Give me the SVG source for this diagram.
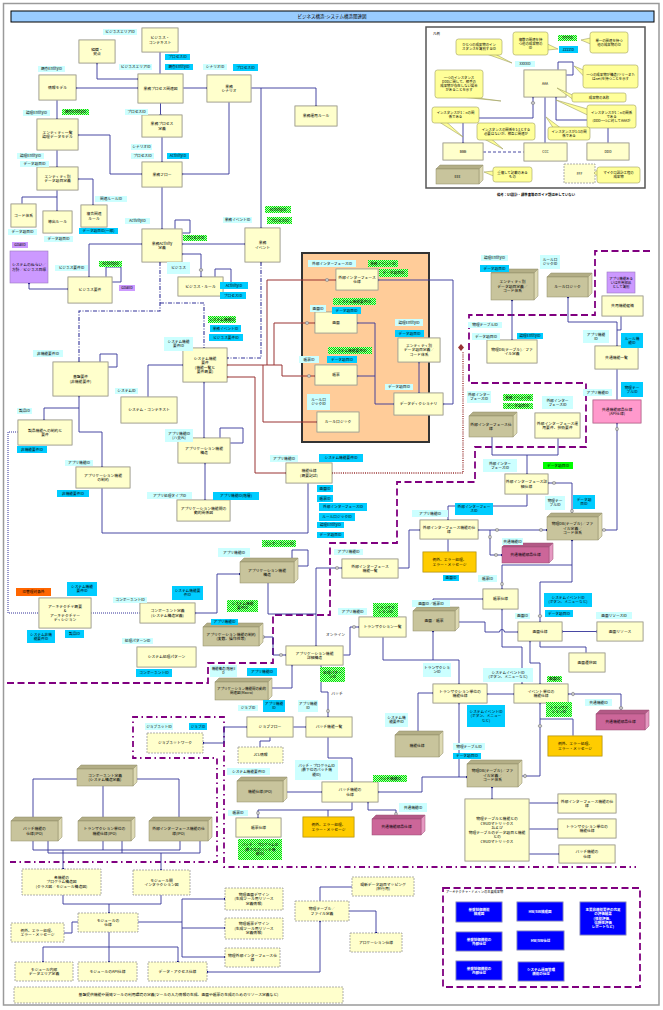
<svg xmlns="http://www.w3.org/2000/svg" width="663" height="1010" viewBox="0 0 663 1010">
<defs>
<style>
text{font-family:"Noto Sans CJK JP","Noto Sans CJK SC",sans-serif;font-size:3.8px;fill:#000;text-anchor:middle}
.lab text{font-size:3.7px}
.co text,.lg text{font-size:3.4px}
.n{fill:#ffffcc;stroke:#a09f8a;stroke-width:.8;filter:drop-shadow(.8px .8px 0 #b8b8b8)}
.nd{fill:#ffffcc;stroke:#999;stroke-width:.8;stroke-dasharray:2 1}
.org{fill:#ffcc00;stroke:#c9a000;stroke-width:.8;filter:drop-shadow(.8px .8px 0 #b8b8b8)}
.pk{fill:#ff99cc;stroke:#c06090;stroke-width:.8;filter:drop-shadow(.8px .8px 0 #b8b8b8)}
.pu{fill:#cc99ff;stroke:#9a7ac0;stroke-width:.6}
.bl{fill:#0000ff;stroke:#8888cc;stroke-width:.8;filter:drop-shadow(.8px .8px 0 #b8b8b8)}
.bt{fill:#fff;font-weight:bold;font-size:3.5px}
.f3{fill:#c8c49c;stroke:#8e8a66;stroke-width:.5}
.t3{fill:#b3ae86;stroke:#8e8a66;stroke-width:.5}
.s3{fill:#dedab4;stroke:#8e8a66;stroke-width:.5}
.fp{fill:#cc6699;stroke:#994d73;stroke-width:.5}
.tp{fill:#b35986;stroke:#994d73;stroke-width:.5}
.sp{fill:#e699c2;stroke:#994d73;stroke-width:.5}
.lc{fill:#ccffff}.sc{fill:#00ccff}.gc{fill:url(#chk)}.gs{fill:#00ff00}.lp{fill:#cc99ff}.lo{fill:#ff6600}
.c{fill:none;stroke:#333399;stroke-width:.9}
.r{fill:none;stroke:#993333;stroke-width:1}
.rd{fill:none;stroke:#993333;stroke-width:1.4;stroke-dasharray:1 1.2}
.dd{fill:none;stroke:#333399;stroke-width:1.1;stroke-dasharray:4 1.5 1 1.5}
.dt{fill:none;stroke:#333399;stroke-width:1;stroke-dasharray:1 1}
.pd{fill:none;stroke:#800080;stroke-width:1.8;stroke-dasharray:7 3.5}
.pdd{fill:none;stroke:#800080;stroke-width:1.8;stroke-dasharray:6 3.5 1.5 3.5}
.o{fill:#d0d0d0;stroke:#666;stroke-width:.5}
.cb{fill:#ffff99;stroke:#a0a060;stroke-width:.6}
.ms{marker-start:url(#d)}.me{marker-end:url(#d)}
.rs{marker-start:url(#rd)}.re{marker-end:url(#rd)}
</style>
<marker id="d" viewBox="0 0 4 4" refX="2" refY="2" markerWidth="3" markerHeight="3" markerUnits="userSpaceOnUse"><circle cx="2" cy="2" r="1.6" fill="#000080"/></marker>
<marker id="rd" viewBox="0 0 4 4" refX="2" refY="2" markerWidth="3" markerHeight="3" markerUnits="userSpaceOnUse"><circle cx="2" cy="2" r="1.6" fill="#800000"/></marker>
<pattern id="chk" width="2" height="2" patternUnits="userSpaceOnUse"><rect width="2" height="2" fill="#b0ffb0"/><rect width="1" height="1" fill="#00e000"/><rect x="1" y="1" width="1" height="1" fill="#00e000"/></pattern>
</defs>
<rect x="0" y="0" width="663" height="1010" fill="#fff"/>
<rect x="3.5" y="3.5" width="655.5" height="1001.5" fill="#fff" stroke="#9a9a9a" stroke-width="1.5"/>
<g id="title"><rect x="11" y="11" width="643" height="11" fill="#99ccff" stroke="#000" stroke-width="1"/><text x="332" y="18.3" style="font-size:4.5px">ビジネス構造-システム構造関連図</text></g>

<!-- legend -->
<g id="legend" class="lg">
<rect x="426" y="27" width="219" height="161" fill="#fff" stroke="#555" stroke-width="1.5"/>
<text x="433" y="35" style="text-anchor:start">凡例</text>
<path class="c" d="M558,70V62H573V75H566"/>
<path class="c ms me" d="M533,97V118H463V143"/>
<path class="c" d="M545,97V143"/>
<path class="c ms" d="M556,97V120H608V143"/>
<path d="M483,152H524" fill="none" stroke="#333399" stroke-width=".9" stroke-dasharray="3 2"/>
<ellipse class="o" cx="533" cy="103" rx="1.8" ry="1.4"/>
<g id="lg-aaa"><rect class="n" x="524" y="70" width="42" height="27"/><text x="545" y="84.8">AAA</text></g>
<g id="lg-bbb"><rect class="n" x="443" y="143" width="40" height="17"/><text x="463" y="152.8">BBB</text></g>
<g id="lg-ccc"><rect class="n" x="524" y="143" width="43" height="18"/><text x="545.5" y="153.3">CCC</text></g>
<g id="lg-ddd"><rect class="n" x="587" y="143" width="42" height="17"/><text x="608" y="152.8">DDD</text></g>
<g id="lg-eee"><polygon class="t3" points="436,169 440,165 483,165 479,169"/><polygon class="s3" points="479,169 483,165 483,180 479,184"/><rect class="f3" x="436" y="169" width="43" height="15"/><text x="457.5" y="177.8">EEE</text></g>
<g id="lg-fff"><rect class="nd" x="564" y="164" width="31" height="19"/><text x="579.5" y="174.8">FFF</text></g>
<g class="lab"><rect class="lc" x="515" y="61" width="20" height="6"/><text x="525" y="65.2" style="font-size:3.4px">XXXXID</text></g>
<g class="lab"><rect class="gc" x="558" y="35" width="19" height="6"/><text x="567.5" y="39.2" style="font-size:3.4px">YYYYID</text></g>
<g class="lab"><rect class="sc" x="559" y="46" width="19" height="7"/><text x="568.5" y="50.7" style="font-size:3.4px">ZZZZID</text></g>
<g class="co">
<polygon class="cb" points="488,54.5 496,54.5 512,63"/><rect class="cb" x="456" y="39" width="46" height="16" rx="2.5"/><text x="479" y="46.15">ひとつの成果物のイン<tspan x="479" dy="4.1">スタンスを識別するID</tspan></text>
<polygon class="cb" points="547.5,44 547.5,50 558,49"/><rect class="cb" x="513" y="32" width="35" height="23" rx="2.5"/><text x="530.5" y="40.6">複数の関連を持<tspan x="530.5" dy="4.1">つ他の成果物の</tspan><tspan x="530.5" dy="4.1">ID</tspan></text>
<polygon class="cb" points="590.5,38 590.5,44 581,40"/><rect class="cb" x="590" y="32" width="38" height="21" rx="2.5"/><text x="609" y="41.65">単一の関連を持つ<tspan x="609" dy="4.1">他の成果物のID</tspan></text>
<polygon class="cb" points="466,97.5 474,97.5 501,101"/><rect class="cb" x="435" y="70" width="48" height="28" rx="2.5"/><text x="459" y="79.05">一つのインスタンス<tspan x="459" dy="4.1">DDDに関して、相手の</tspan><tspan x="459" dy="4.1">成果物が存在しない場合</tspan><tspan x="459" dy="4.1">があることを示す</tspan></text>
<polygon class="cb" points="583.5,70 583.5,76 574,66"/><rect class="cb" x="583" y="65" width="55" height="23" rx="2.5"/><text x="610.5" y="75.65">一つの成果物が構造(ツリーまた<tspan x="610.5" dy="4.1">はnet)を持つことを示す</tspan></text>
<polygon class="cb" points="572.5,95 572.5,99 557,88"/><rect class="cb" x="572" y="93" width="54" height="9" rx="2"/><text x="599" y="98.7">成果物の名称</text>
<polygon class="cb" points="440,122.5 447,122.5 463,137"/><rect class="cb" x="432" y="107" width="47" height="16" rx="2.5"/><text x="455.5" y="114.15">インスタンスが1：nの関<tspan x="455.5" dy="4.1">係である</tspan></text>
<polygon class="cb" points="587.5,109 587.5,115 556,100"/><rect class="cb" x="587" y="105" width="49" height="23" rx="2.5"/><text x="611.5" y="113.6">インスタンスが1：nの関係<tspan x="611.5" dy="4.1">である</tspan><tspan x="611.5" dy="4.1">(DDD一つに対してAAAが</tspan></text>
<polygon class="cb" points="485,139.5 492,139.5 503,149"/><rect class="cb" x="477" y="123" width="58" height="17" rx="2.5"/><text x="506" y="130.65">インスタンスの関係を1:1とする<tspan x="506" dy="4.1">必要はないが、相互に関連が</tspan></text>
<polygon class="cb" points="553,127.5 560,127.5 546,117"/><rect class="cb" x="548" y="127" width="42" height="13" rx="2.5"/><text x="569" y="132.65">インスタンスが1:1の関<tspan x="569" dy="4.1">係である</tspan></text>
<polygon class="cb" points="493.5,171 493.5,176 484,172"/><rect class="cb" x="493" y="167" width="39" height="15" rx="2.5"/><text x="512.5" y="173.65">重複して記載のある<tspan x="512.5" dy="4.1">もの</tspan></text>
<polygon class="cb" points="597.5,170 597.5,176 594,173"/><rect class="cb" x="597" y="167" width="43" height="16" rx="2.5"/><text x="618.5" y="174.15">マイクロ設計工程の<tspan x="618.5" dy="4.1">成果物</tspan></text>
</g>
<text x="536" y="196" style="font-weight:bold">備考：UI設計・標準書等のガイド類は示していない</text>
</g>

<!-- region boundaries -->
<g id="regions">
<rect x="302" y="253" width="127" height="189" fill="#ffcc99" stroke="#333" stroke-width="2"/>
<path class="pd" d="M650,251H595V315H469V383H586V447H475V482H397V543H330V615H273V663H208V683H7"/>
<path class="pdd" d="M10,862H217V758H133V717H224V867H636"/>
<rect class="pd" x="443" y="888" width="197" height="99"/>
<text x="446" y="893" style="text-anchor:start;font-size:3.2px">アーキテクチャ・ドメインの主要成果物</text>
</g>

<!-- connectors -->
<g id="connectors">
<path class="c ms me" d="M97,63V79H138"/>
<path class="c" d="M160,52V74"/>
<path class="c ms me" d="M76,88H138"/>
<path class="c me" d="M183,88H207"/>
<path class="c me" d="M160.5,103V115"/>
<path class="c me" d="M162,137V162"/>
<path class="c me" d="M57,100V119"/>
<path class="c ms me" d="M78,135H110V174H142"/>
<path class="c me" d="M57,150V167"/>
<path class="c ms me" d="M78,179H93V205"/>
<path class="c me" d="M57,190V211"/>
<path class="c" d="M57,197H22V204"/>
<path class="c me" d="M229,102V174H182"/>
<path class="c me" d="M251,88H316V106"/>
<path class="c me" d="M261,88V228"/>
<path class="c me" d="M162,187V229"/>
<path class="c" d="M175,229V220H190V233H182"/>
<path class="c ms me" d="M142,244H89V277"/>
<path class="c ms me" d="M182,244H245"/>
<path class="c ms me" d="M182,254H201V277"/>
<path class="c" d="M215,277V269H231V286H223"/>
<path class="c ms me" d="M29,283V289H68"/>
<path class="c" d="M106,277V267H121V282H112"/>
<path class="c" d="M100,362V354H117V367H108"/>
<path class="dd ms me" d="M160,262V311H79V362"/>
<path class="dd me" d="M160,303H204V348"/>
<path class="dd ms me" d="M261,262V358H227"/>
<path class="c ms" d="M183,365H148V397"/>
<path class="c ms me" d="M79,396V408H44V420"/>
<path class="c me" d="M79,408V432H102V467"/>
<path class="c ms me" d="M204,382V438"/>
<path class="c ms me" d="M205,463V500"/>
<path class="c" d="M220,438V428H243V443H230"/>
<path class="c" d="M102,488V533H308V483"/>
<path class="c ms me" d="M357,323H375V404H394"/>
<path class="c ms" d="M357,376H375"/>
<path class="c ms me" d="M419,362V393"/>
<path class="c ms me" d="M378,280H453V404H443"/>
<path class="c ms me" d="M512,300V340"/>
<path class="c ms me" d="M568,297V322H617V346"/>
<path class="c" d="M621,316V330H617"/>
<path class="c" d="M617,369V400"/>
<path class="c ms me" d="M617,423V530H598"/>
<path class="c" d="M492,437V455H558V438"/>
<path class="c me" d="M527,455V474"/>
<path class="c ms me" d="M548,483H572V517"/>
<path class="c me" d="M527,494V506H448V520"/>
<path class="c ms me" d="M478,530H547"/>
<path class="c me" d="M490,530V555H502"/>
<path class="c" d="M448,539V552"/>
<path class="c me" d="M398,568H409V530H420"/>
<path class="c ms me" d="M342,568H316V646"/>
<path class="c" d="M268,583V614H316"/>
<path class="c" d="M292,562V550H308V566H298"/>
<path class="c ms me" d="M195,613H217V574H240"/>
<path class="c me" d="M259,637H273V655H286"/>
<path class="c ms me" d="M268,688H292V665"/>
<path class="c me" d="M343,655H350V627H359"/>
<path class="c" d="M383,637V660H433"/>
<path class="c ms me" d="M433,631V660H459V684"/>
<path class="c me" d="M433,607V599H483"/>
<path class="c me" d="M455,622H485V632H499.5a2.5,2.5 0 0 1 5,0H518"/>
<path class="c ms me" d="M502,609V647H522V684"/>
<path class="c ms" d="M502,589V565H572"/>
<path class="c ms me" d="M572,540V582H540V622"/>
<path class="c ms me" d="M562,631.5H597"/>
<path class="c" d="M540,641V647H586V653"/>
<path class="c ms me" d="M530,641V663H540V684"/>
<path class="c ms me" d="M487,694H514"/>
<path class="c ms me" d="M568,694H621V714"/>
<path class="c ms me" d="M540,703V776H518"/>
<path class="c" d="M540,719H573V736"/>
<path class="c ms me" d="M459,703V777H467"/>
<path class="c ms" d="M378,792H422V777H459"/>
<path class="c me" d="M418,731V693H433"/>
<path class="c ms me" d="M492,787V799"/>
<path class="c me" d="M529,803H558"/>
<path class="c me" d="M529,829H558"/>
<path class="c me" d="M529,854H559"/>
<path class="c ms me" d="M203,743H224V727H247"/>
<path class="c me" d="M293,727H306"/>
<path class="c" d="M270,737V741H260V747"/>
<path class="c me" d="M321,665V692H328V717"/>
<path class="c me" d="M328,737V758H352V782"/>
<path class="c me" d="M287,792H322"/>
<path class="c me" d="M352,802V810H258V818"/>
<path class="c" d="M328,810V817"/>
<path class="c ms me" d="M368,802V810H396V819"/>
<path class="c" d="M77,779H33V817"/>
<path class="c" d="M103,786V817"/>
<path class="c" d="M133,779H179V817"/>
<path class="c" d="M33,841V850H180V841M103,841V850"/>
<path class="c me" d="M63,850V869"/>
<path class="c" d="M48,841V853H200V841M122,841V853"/>
<path class="c me" d="M161,853V870"/>
<path class="c" d="M63,895V904H161V895"/>
<path class="c me" d="M109,904V913"/>
<path class="c" d="M78,922H72V933H64"/>
<path class="c me" d="M109,932V962"/>
<path class="c ms me" d="M43,962V947H178V962"/>
<path class="c" d="M138,922H182M182,899V957"/>
<path class="c me" d="M182,899H225"/>
<path class="c me" d="M182,928H225"/>
<path class="c me" d="M182,957H225"/>
<path class="c ms me" d="M207,972H320V921"/>
<path class="c" d="M320,901V887H352"/>
<path class="c me" d="M349,911H376V933"/>
<path class="dt" d="M18,432H8V613H39M91,613H140"/>
<path class="r rs re" d="M227,365H282V376H315"/>
<path class="r re" d="M267,365V280H336"/>
<path class="r re" d="M274,365V323H315"/>
<path class="r re" d="M263,365V422H317"/>
<path class="r rs re" d="M227,377H255V473H286"/>
<path class="rd rs" d="M332,473H463V351"/>
<polygon points="461,344 464,347.5 461,351 458,347.5" fill="#993333"/>
<ellipse class="o" cx="201" cy="270" rx="1.8" ry="1.4"/>
<ellipse class="o" cx="327" cy="280" rx="1.8" ry="1.4"/>
<ellipse class="o" cx="307" cy="323" rx="1.8" ry="1.4"/>
<ellipse class="o" cx="309" cy="376" rx="1.8" ry="1.4"/>
<ellipse class="o" cx="617" cy="429" rx="1.4" ry="1.8"/>
<ellipse class="o" cx="604" cy="530" rx="1.8" ry="1.4"/>
<ellipse class="o" cx="554" cy="483" rx="1.8" ry="1.4"/>
<ellipse class="o" cx="572" cy="511" rx="1.4" ry="1.8"/>
<ellipse class="o" cx="497" cy="530" rx="1.8" ry="1.4"/>
<ellipse class="o" cx="541" cy="530" rx="1.8" ry="1.4"/>
<ellipse class="o" cx="490" cy="537" rx="1.4" ry="1.8"/>
<ellipse class="o" cx="496" cy="555" rx="1.8" ry="1.4"/>
<ellipse class="o" cx="502" cy="584" rx="1.4" ry="1.8"/>
<ellipse class="o" cx="540" cy="616" rx="1.8" ry="1.4"/>
<ellipse class="o" cx="573" cy="694" rx="1.4" ry="1.8"/>
<ellipse class="o" cx="621" cy="708" rx="1.8" ry="1.4"/>
<ellipse class="o" cx="540" cy="726" rx="1.8" ry="1.4"/>
<ellipse class="o" cx="525" cy="776" rx="1.4" ry="1.8"/>
<ellipse class="o" cx="337" cy="568" rx="1.8" ry="1.4"/>
<ellipse class="o" cx="263" cy="637" rx="1.8" ry="1.4"/>
<ellipse class="o" cx="281" cy="655" rx="1.8" ry="1.4"/>
<ellipse class="o" cx="354" cy="627" rx="1.8" ry="1.4"/>
<ellipse class="o" cx="328" cy="711" rx="1.4" ry="1.8"/>
<ellipse class="o" cx="258" cy="813" rx="1.4" ry="1.8"/>
<ellipse class="o" cx="396" cy="814" rx="1.4" ry="1.8"/>
</g>

<!-- nodes -->
<g id="nodes">
<g id="n1"><rect class="n" x="142" y="28" width="36" height="24"/><text x="160" y="39.05">ビジネス・<tspan x="160" dy="4.5">コンテキスト</tspan></text></g>
<g id="n2"><rect class="n" x="79" y="40" width="36" height="23"/><text x="97" y="50.55">組織・<tspan x="97" dy="4.5">拠点</tspan></text></g>
<g id="n3"><rect class="n" x="39" y="75" width="37" height="25"/><text x="57.5" y="88.8">情報モデル</text></g>
<g id="n4"><rect class="n" x="138" y="74" width="45" height="29"/><text x="160.5" y="89.8">業務プロセス関連図</text></g>
<g id="n5"><rect class="n" x="207" y="75" width="44" height="27"/><text x="229" y="87.55">業務<tspan x="229" dy="4.5">シナリオ</tspan></text></g>
<g id="n6"><rect class="n" x="295" y="106" width="42" height="20"/><text x="316" y="117.3">業務運用ルール</text></g>
<g id="n7"><rect class="n" x="142" y="115" width="40" height="22"/><text x="162" y="125.05">業務プロセス<tspan x="162" dy="4.5">定義</tspan></text></g>
<g id="n8"><rect class="n" x="37" y="119" width="41" height="31"/><text x="57.5" y="133.55">エンティティ一覧<tspan x="57.5" dy="4.5">論理データモデル</tspan></text></g>
<g id="n9"><rect class="n" x="142" y="162" width="40" height="25"/><text x="162" y="175.8">業務フロー</text></g>
<g id="n10"><rect class="n" x="37" y="167" width="41" height="23"/><text x="57.5" y="177.55">エンティティ別<tspan x="57.5" dy="4.5">データ項目定義</tspan></text></g>
<g id="n11"><rect class="n" x="11" y="204" width="25" height="23"/><text x="23.5" y="216.8">コード体系</text></g>
<g id="n12"><rect class="n" x="43" y="211" width="29" height="22"/><text x="57.5" y="223.3">導出ルール</text></g>
<g id="n13"><rect class="n" x="81" y="205" width="26" height="22"/><text x="94" y="215.05">複合関連<tspan x="94" dy="4.5">ルール</tspan></text></g>
<g id="n14"><rect class="n" x="142" y="229" width="40" height="33"/><text x="162" y="244.55">業務Activity<tspan x="162" dy="4.5">定義</tspan></text></g>
<g id="n15"><rect class="n" x="245" y="228" width="35" height="34"/><text x="262.5" y="244.05">業務<tspan x="262.5" dy="4.5">イベント</tspan></text></g>
<g id="n16"><rect class="pu" x="10" y="251" width="38" height="32"/><text x="29" y="266.05">システムのねらい／<tspan x="29" dy="4.5">方針／ビジネス目標</tspan></text></g>
<g id="n17"><rect class="n" x="68" y="277" width="44" height="26"/><text x="90" y="291.3">ビジネス要件</text></g>
<g id="n18"><rect class="n" x="178" y="277" width="45" height="19"/><text x="200.5" y="287.8">ビジネス・ルール</text></g>
<g id="n19"><rect class="n" x="53" y="362" width="55" height="34"/><text x="80.5" y="378.05">基盤要件<tspan x="80.5" dy="4.5">(非機能要件)</tspan></text></g>
<g id="n20"><rect class="n" x="183" y="348" width="44" height="34"/><text x="205" y="359.55">システム機能<tspan x="205" dy="4.5">要件</tspan><tspan x="205" dy="4.5">(機能一覧と</tspan><tspan x="205" dy="4.5">要件概要)</tspan></text></g>
<g id="n21"><rect class="n" x="121" y="397" width="56" height="26"/><text x="149" y="411.3">システム・コンテキスト</text></g>
<g id="n22"><rect class="n" x="18" y="420" width="54" height="25"/><text x="45" y="431.55">製品機能への制約と<tspan x="45" dy="4.5">要件</tspan></text></g>
<g id="n23"><rect class="n" x="178" y="438" width="52" height="25"/><text x="204" y="449.55">アプリケーション機能<tspan x="204" dy="4.5">構造</tspan></text></g>
<g id="n24"><rect class="n" x="76" y="467" width="54" height="21"/><text x="103" y="476.55">アプリケーション機能<tspan x="103" dy="4.5">の制約</tspan></text></g>
<g id="n25"><rect class="n" x="177" y="500" width="53" height="21"/><text x="203.5" y="509.55">アプリケーション機能間の<tspan x="203.5" dy="4.5">動的関係図</tspan></text></g>
<g id="n26"><rect class="n" x="336" y="269" width="42" height="21"/><text x="357" y="278.55">外部インターフェース<tspan x="357" dy="4.5">仕様</tspan></text></g>
<g id="n27"><rect class="n" x="315" y="312" width="42" height="21"/><text x="336" y="323.8">画面</text></g>
<g id="n28"><rect class="n" x="398" y="338" width="42" height="24"/><text x="419" y="346.8">エンティティ別<tspan x="419" dy="4.5">データ項目定義／</tspan><tspan x="419" dy="4.5">コード体系</tspan></text></g>
<g id="n29"><rect class="n" x="315" y="365" width="42" height="20"/><text x="336" y="376.3">帳票</text></g>
<g id="n30"><rect class="n" x="394" y="393" width="49" height="22"/><text x="418.5" y="405.3">データディクショナリ</text></g>
<g id="n31"><rect class="n" x="317" y="412" width="42" height="20"/><text x="338" y="423.3">ルールロジック</text></g>
<g id="n32"><rect class="n" x="286" y="463" width="46" height="20"/><text x="309" y="472.05">機能仕様<tspan x="309" dy="4.5">(概要記述)</tspan></text></g>
<g id="n33"><polygon class="t3" points="491,273 495,269 538,269 534,273"/><polygon class="s3" points="534,273 538,269 538,296 534,300"/><rect class="f3" x="491" y="273" width="43" height="27"/><text x="512.5" y="283.3">エンティティ別<tspan x="512.5" dy="4.5">データ項目定義／</tspan><tspan x="512.5" dy="4.5">コード体系</tspan></text></g>
<g id="n34"><polygon class="t3" points="547,277 551,273 592,273 588,277"/><polygon class="s3" points="588,277 592,273 592,293 588,297"/><rect class="f3" x="547" y="277" width="41" height="20"/><text x="567.5" y="288.3">ルールロジック</text></g>
<g id="n35"><rect class="pu" x="607" y="272" width="28" height="21"/><text x="621" y="279.6" style="font-size:3.4px">アプリ機能ある<tspan x="621" dy="4.1">いは共用部品</tspan><tspan x="621" dy="4.1">として識別</tspan></text></g>
<g id="n36"><rect class="n" x="602" y="296" width="41" height="20"/><text x="622.5" y="307.3">共用機能候補</text></g>
<g id="n37"><rect class="n" x="487" y="340" width="50" height="23"/><text x="512" y="350.55">物理DB(テーブル)／ファ<tspan x="512" dy="4.5">イル定義</tspan></text></g>
<g id="n38"><rect class="n" x="595" y="346" width="43" height="23"/><text x="616.5" y="358.8">共通機能一覧</text></g>
<g id="n39"><rect class="pk" x="593" y="400" width="48" height="23"/><text x="617" y="410.55">共通機能部品仕様<tspan x="617" dy="4.5">(API仕様)</tspan></text></g>
<g id="n40"><polygon class="t3" points="469,416 473,412 517,412 513,416"/><polygon class="s3" points="513,416 517,412 517,433 513,437"/><rect class="f3" x="469" y="416" width="44" height="21"/><text x="491" y="425.55">外部インターフェース仕<tspan x="491" dy="4.5">様</tspan></text></g>
<g id="n41"><rect class="n" x="535" y="413" width="45" height="25"/><text x="557.5" y="424.55">外部インターフェース運<tspan x="557.5" dy="4.5">用要件、技術要件</tspan></text></g>
<g id="n42"><rect class="n" x="505" y="474" width="43" height="20"/><text x="526.5" y="483.05">外部インターフェース詳<tspan x="526.5" dy="4.5">細仕様</tspan></text></g>
<g id="n43"><rect class="n" x="342" y="559" width="56" height="19"/><text x="370" y="567.55">外部インターフェース<tspan x="370" dy="4.5">機能一覧</tspan></text></g>
<g id="n44"><rect class="n" x="420" y="520" width="58" height="19"/><text x="449" y="528.55">外部インターフェース機能の仕<tspan x="449" dy="4.5">様</tspan></text></g>
<g id="n45"><rect class="org" x="423" y="552" width="53" height="20"/><text x="449.5" y="561.05">例外、エラー処理、<tspan x="449.5" dy="4.5">エラー・メッセージ</tspan></text></g>
<g id="n46"><polygon class="t3" points="547,517 551,513 602,513 598,517"/><polygon class="s3" points="598,517 602,513 602,536 598,540"/><rect class="f3" x="547" y="517" width="51" height="23"/><text x="572.5" y="525.3">物理DB(テーブル)／ファ<tspan x="572.5" dy="4.5">イル定義／</tspan><tspan x="572.5" dy="4.5">コード体系</tspan></text></g>
<g id="n47"><polygon class="tp" points="502,547 506,543 553,543 549,547"/><polygon class="sp" points="549,547 553,543 553,559 549,563"/><rect class="fp" x="502" y="547" width="47" height="16"/><text x="525.5" y="556.3">共通機能部品仕様</text></g>
<g id="n48"><rect class="n" x="483" y="589" width="35" height="20"/><text x="500.5" y="600.3">帳票仕様</text></g>
<g id="n49"><polygon class="t3" points="413,611 417,607 459,607 455,611"/><polygon class="s3" points="455,611 459,607 459,627 455,631"/><rect class="f3" x="413" y="611" width="42" height="20"/><text x="434" y="622.3">画面／帳票</text></g>
<g id="n50"><rect class="n" x="518" y="622" width="44" height="19"/><text x="540" y="632.8">画面仕様</text></g>
<g id="n51"><rect class="n" x="597" y="622" width="46" height="19"/><text x="620" y="632.8">画面リソース</text></g>
<g id="n52"><rect class="n" x="569" y="653" width="36" height="19"/><text x="587" y="663.8">画面遷移図</text></g>
<g id="n53"><rect class="n" x="433" y="684" width="54" height="19"/><text x="460" y="692.55">トランザクション単位の<tspan x="460" dy="4.5">機能仕様</tspan></text></g>
<g id="n54"><rect class="n" x="514" y="684" width="54" height="19"/><text x="541" y="692.55">イベント単位の<tspan x="541" dy="4.5">機能仕様</tspan></text></g>
<g id="n55"><polygon class="tp" points="596,714 600,710 649,710 645,714"/><polygon class="sp" points="645,714 649,710 649,726 645,730"/><rect class="fp" x="596" y="714" width="49" height="16"/><text x="620.5" y="723.3">共通機能部品仕様</text></g>
<g id="n56"><rect class="org" x="548" y="736" width="54" height="20"/><text x="575" y="745.05">例外、エラー処理、<tspan x="575" dy="4.5">エラー・メッセージ</tspan></text></g>
<g id="n57"><polygon class="t3" points="467,764 471,760 522,760 518,764"/><polygon class="s3" points="518,764 522,760 522,783 518,787"/><rect class="f3" x="467" y="764" width="51" height="23"/><text x="492.5" y="772.3">物理DB(テーブル)／ファ<tspan x="492.5" dy="4.5">イル定義／</tspan><tspan x="492.5" dy="4.5">コード体系</tspan></text></g>
<g id="n58"><rect class="n" x="465" y="799" width="64" height="62"/><text x="497" y="820.05">物理テーブルと機能との<tspan x="497" dy="4.5">CRUDマトリックス</tspan><tspan x="497" dy="4.5">および</tspan><tspan x="497" dy="4.5">物理テーブルのデータ項目と機能</tspan><tspan x="497" dy="4.5">との</tspan><tspan x="497" dy="4.5">CRUDマトリックス</tspan></text></g>
<g id="n59"><rect class="n" x="558" y="794" width="58" height="19"/><text x="587" y="802.55">外部インターフェース機能の仕<tspan x="587" dy="4.5">様</tspan></text></g>
<g id="n60"><rect class="n" x="558" y="819" width="58" height="19"/><text x="587" y="827.55">トランザクション単位の<tspan x="587" dy="4.5">機能仕様</tspan></text></g>
<g id="n61"><rect class="n" x="559" y="845" width="56" height="18"/><text x="587" y="853.05">バッチ機能の<tspan x="587" dy="4.5">仕様</tspan></text></g>
<g id="n62"><rect class="n" x="39" y="598" width="52" height="30"/><text x="65" y="607.55">アーキテクチャ概要<tspan x="65" dy="4.5">&amp;</tspan><tspan x="65" dy="4.5">アーキテクチャー</tspan><tspan x="65" dy="4.5">ディシジョン</tspan></text></g>
<g id="n63"><rect class="n" x="140" y="603" width="55" height="20"/><text x="167.5" y="612.05">コンポーネント定義<tspan x="167.5" dy="4.5">(システム構造定義)</tspan></text></g>
<g id="n64"><rect class="n" x="137" y="647" width="59" height="20"/><text x="166.5" y="658.3">システム処理パターン</text></g>
<g id="n65"><polygon class="t3" points="240,562 244,558 298,558 294,562"/><polygon class="s3" points="294,562 298,558 298,579 294,583"/><rect class="f3" x="240" y="562" width="54" height="21"/><text x="267" y="571.55">アプリケーション機能<tspan x="267" dy="4.5">構造</tspan></text></g>
<g id="n66"><polygon class="t3" points="203,627 207,623 263,623 259,627"/><polygon class="s3" points="259,627 263,623 263,642 259,646"/><rect class="f3" x="203" y="627" width="56" height="19"/><text x="231" y="635.55">アプリケーション機能の制約<tspan x="231" dy="4.5">(変数、操作性等)</tspan></text></g>
<g id="n67"><rect class="n" x="286" y="646" width="57" height="19"/><text x="314.5" y="654.55">アプリケーション機能<tspan x="314.5" dy="4.5">詳細構造</tspan></text></g>
<g id="n68"><rect class="n" x="359" y="617" width="47" height="20"/><text x="382.5" y="628.3">トランザクション一覧</text></g>
<g id="n69"><polygon class="t3" points="215,682 219,678 272,678 268,682"/><polygon class="s3" points="268,682 272,678 272,696 268,700"/><rect class="f3" x="215" y="682" width="53" height="18"/><text x="241.5" y="690.05" style="font-size:3.5px">アプリケーション機能間の動的<tspan x="241.5" dy="4.4">関連図(Macro)</tspan></text></g>
<g id="n70"><rect class="n" x="247" y="717" width="46" height="20"/><text x="270" y="728.3">ジョブフロー</text></g>
<g id="n71"><rect class="n" x="306" y="717" width="46" height="20"/><text x="329" y="728.3">バッチ機能一覧</text></g>
<g id="n72"><rect class="nd" x="147" y="733" width="56" height="20"/><text x="175" y="744.3">ジョブネットワーク</text></g>
<g id="n73"><rect class="nd" x="238" y="747" width="45" height="16"/><text x="260.5" y="756.3">JCL情報</text></g>
<g id="n74"><polygon class="t3" points="237,781 241,777 287,777 283,781"/><polygon class="s3" points="283,781 287,777 287,798 283,802"/><rect class="f3" x="237" y="781" width="46" height="21"/><text x="260" y="792.8">機能仕様(IPO)</text></g>
<g id="n75"><rect class="n" x="322" y="782" width="56" height="20"/><text x="350" y="791.05">バッチ機能の<tspan x="350" dy="4.5">仕様</tspan></text></g>
<g id="n76"><rect class="n" x="236" y="818" width="45" height="19"/><text x="258.5" y="828.8">帳票仕様</text></g>
<g id="n77"><rect class="org" x="303" y="817" width="51" height="20"/><text x="328.5" y="826.05">例外、エラー処理、<tspan x="328.5" dy="4.5">エラー・メッセージ</tspan></text></g>
<g id="n78"><polygon class="tp" points="372,819 376,815 425,815 421,819"/><polygon class="sp" points="421,819 425,815 425,831 421,835"/><rect class="fp" x="372" y="819" width="49" height="16"/><text x="396.5" y="828.3">共通機能部品仕様</text></g>
<g id="n79"><polygon class="t3" points="395,735 399,731 443,731 439,735"/><polygon class="s3" points="439,735 443,731 443,753 439,757"/><rect class="f3" x="395" y="735" width="44" height="22"/><text x="417" y="747.3">機能仕様</text></g>
<g id="n80"><polygon class="t3" points="77,769 81,765 137,765 133,769"/><polygon class="s3" points="133,769 137,765 137,782 133,786"/><rect class="f3" x="77" y="769" width="56" height="17"/><text x="105" y="776.55">コンポーネント定義<tspan x="105" dy="4.5">(システム構造定義)</tspan></text></g>
<g id="n81"><polygon class="t3" points="11,821 15,817 62,817 58,821"/><polygon class="s3" points="58,821 62,817 62,837 58,841"/><rect class="f3" x="11" y="821" width="47" height="20"/><text x="34.5" y="830.05">バッチ機能の<tspan x="34.5" dy="4.5">仕様(IPO)</tspan></text></g>
<g id="n82"><polygon class="t3" points="78,821 82,817 135,817 131,821"/><polygon class="s3" points="131,821 135,817 135,837 131,841"/><rect class="f3" x="78" y="821" width="53" height="20"/><text x="104.5" y="830.05">トランザクション単位の<tspan x="104.5" dy="4.5">機能仕様(IPO)</tspan></text></g>
<g id="n83"><polygon class="t3" points="149,821 153,817 212,817 208,821"/><polygon class="s3" points="208,821 212,817 212,837 208,841"/><rect class="f3" x="149" y="821" width="59" height="20"/><text x="178.5" y="830.05">外部インターフェース機能の仕<tspan x="178.5" dy="4.5">様(IPO)</tspan></text></g>
<g id="n84"><rect class="nd" x="22" y="869" width="79" height="26"/><text x="61.5" y="878.8">各機能の<tspan x="61.5" dy="4.5">プログラム構造図</tspan><tspan x="61.5" dy="4.5">(クラス図／モジュール構造図)</tspan></text></g>
<g id="n85"><rect class="nd" x="133" y="870" width="57" height="25"/><text x="161.5" y="881.55">モジュール間<tspan x="161.5" dy="4.5">インタラクション図</tspan></text></g>
<g id="n86"><rect class="nd" x="78" y="913" width="60" height="19"/><text x="108" y="921.55">モジュールの<tspan x="108" dy="4.5">仕様</tspan></text></g>
<g id="n87"><rect class="nd" x="11" y="923" width="53" height="19"/><text x="37.5" y="931.55">例外、エラー処理、<tspan x="37.5" dy="4.5">エラー・メッセージ</tspan></text></g>
<g id="n88"><rect class="nd" x="15" y="962" width="58" height="19"/><text x="44" y="970.55">モジュール内部<tspan x="44" dy="4.5">データエリア定義</tspan></text></g>
<g id="n89"><rect class="nd" x="78" y="962" width="59" height="19"/><text x="107.5" y="972.8">モジュールのAPI仕様</text></g>
<g id="n90"><rect class="nd" x="148" y="962" width="59" height="19"/><text x="177.5" y="972.8">データ・アクセス仕様</text></g>
<g id="n91"><rect class="nd" x="14" y="987" width="329" height="16"/><text x="178.5" y="996.3">基盤提供機能や開発ツールの利用環境の定義(ツールの入力情報の生成、画面や帳票の生成のためのリソース定義など)</text></g>
<g id="n92"><rect class="nd" x="225" y="888" width="58" height="22"/><text x="254" y="895.8">物理画面デザイン<tspan x="254" dy="4.5">(生成ツール用リソース</tspan><tspan x="254" dy="4.5">定義情報)</tspan></text></g>
<g id="n93"><rect class="nd" x="225" y="918" width="58" height="21"/><text x="254" y="925.3">物理帳票デザイン<tspan x="254" dy="4.5">(生成ツール用リソース</tspan><tspan x="254" dy="4.5">定義情報)</tspan></text></g>
<g id="n94"><rect class="nd" x="225" y="948" width="55" height="19"/><text x="252.5" y="956.55">物理外部インターフェース仕<tspan x="252.5" dy="4.5">様</tspan></text></g>
<g id="n95"><rect class="nd" x="295" y="901" width="54" height="20"/><text x="322" y="910.05">物理テーブル／<tspan x="322" dy="4.5">ファイル定義</tspan></text></g>
<g id="n96"><rect class="nd" x="352" y="877" width="62" height="19"/><text x="383" y="885.55">現新データ項目マッピング<tspan x="383" dy="4.5">(移行用)</tspan></text></g>
<g id="n97"><rect class="nd" x="350" y="933" width="52" height="19"/><text x="376" y="943.8">アロケーション仕様</text></g>
<g id="b1"><rect class="bl" x="456" y="902" width="46" height="20"/><text class="bt" x="479" y="911.05">基盤制御機能<tspan x="479" dy="4.3">構成図</tspan></text></g>
<g id="b2"><rect class="bl" x="517" y="902" width="46" height="19"/><text class="bt" x="540" y="912.7">HW/SW構成図</text></g>
<g id="b3"><rect class="bl" x="580" y="902" width="46" height="33"/><text class="bt" x="603" y="911.1">主要非機能要件の充足<tspan x="603" dy="4.3">の評価結果</tspan><tspan x="603" dy="4.3">(性能評価、</tspan><tspan x="603" dy="4.3">信頼性評価</tspan><tspan x="603" dy="4.3">レポートなど)</tspan></text></g>
<g id="b4"><rect class="bl" x="456" y="932" width="46" height="19"/><text class="bt" x="479" y="940.55">基盤制御機能の<tspan x="479" dy="4.3">外部仕様</tspan></text></g>
<g id="b5"><rect class="bl" x="517" y="931" width="47" height="19"/><text class="bt" x="540.5" y="941.7">HW/SW仕様</text></g>
<g id="b6"><rect class="bl" x="456" y="961" width="46" height="19"/><text class="bt" x="479" y="969.55">基盤制御機能の<tspan x="479" dy="4.3">内部仕様</tspan></text></g>
<g id="b7"><rect class="bl" x="518" y="962" width="46" height="19"/><text class="bt" x="541" y="970.55">システム運用管理<tspan x="541" dy="4.3">機能の仕様</tspan></text></g>
<text x="335.5" y="636">オンライン</text>
<text x="337" y="694.5">バッチ</text>
</g>

<!-- ID labels -->
<g id="labels" class="lab">
<rect class="lc" x="103" y="29" width="34" height="6"/><text x="120" y="33.2">ビジネスエリアID</text>
<rect class="lc" x="119" y="64" width="33" height="6"/><text x="135.5" y="68.2">ビジネスエリアID</text>
<rect class="sc" x="165" y="54" width="25" height="6"/><text x="177.5" y="58.2">プロセスID</text>
<rect class="sc" x="165" y="64" width="28" height="6"/><text x="179" y="68.2">概念EntityID</text>
<rect class="lc" x="203" y="64" width="24" height="6"/><text x="215" y="68.2">シナリオID</text>
<rect class="sc" x="233" y="64" width="25" height="7"/><text x="245.5" y="68.7">プロセスID</text>
<rect class="lc" x="38" y="66" width="27" height="6"/><text x="51.5" y="70.2">概念EntityID</text>
<rect class="lc" x="23" y="110" width="27" height="6"/><text x="36.5" y="114.2">論理EntityID</text>
<rect class="gc" x="62" y="109" width="27" height="6"/><text x="75.5" y="113.2">概念EntityID</text>
<rect class="lc" x="125" y="109" width="23" height="6"/><text x="136.5" y="113.2">プロセスID</text>
<rect class="lc" x="131" y="144" width="21" height="6"/><text x="141.5" y="148.2">シナリオID</text>
<rect class="lc" x="131" y="153" width="23" height="6"/><text x="142.5" y="157.2">プロセスID</text>
<rect class="sc" x="167" y="153" width="22" height="6"/><text x="178" y="157.2">ActivityID</text>
<rect class="lc" x="17" y="153" width="27" height="6"/><text x="30.5" y="157.2">論理EntityID</text>
<rect class="lc" x="20" y="161" width="29" height="6"/><text x="34.5" y="165.2">データ項目ID</text>
<rect class="lc" x="95" y="196" width="32" height="6"/><text x="111" y="200.2">関連ルールID</text>
<rect class="lc" x="8" y="229" width="29" height="6"/><text x="22.5" y="233.2">データ項目ID</text>
<rect class="lc" x="44" y="236" width="29" height="6"/><text x="58.5" y="240.2">データ項目ID</text>
<rect class="sc" x="79" y="228" width="39" height="6"/><text x="98.5" y="232.2">データ項目ID(一部)</text>
<rect class="lc" x="125" y="218" width="25" height="6"/><text x="137.5" y="222.2">ActivityID</text>
<rect class="lp" x="12" y="242" width="16" height="6"/><text x="20" y="246.2">GoalID</text>
<rect class="gc" x="183" y="235" width="24" height="6"/><text x="195" y="239.2">プロセスID</text>
<rect class="gc" x="265" y="206" width="26" height="7"/><text x="278" y="210.7">ActivityID</text>
<rect class="gc" x="267" y="217" width="25" height="7"/><text x="279.5" y="221.7">プロセスID</text>
<rect class="lc" x="223" y="217" width="29" height="6"/><text x="237.5" y="221.2">業務イベントID</text>
<rect class="lc" x="55" y="265" width="33" height="6"/><text x="71.5" y="269.2">ビジネス要件ID</text>
<rect class="gc" x="99" y="261" width="23" height="6"/><text x="110.5" y="265.2">ActivityID</text>
<rect class="lp" x="119" y="285" width="16" height="6"/><text x="127" y="289.2">GoalID</text>
<rect class="lc" x="167" y="262" width="23" height="12"/><text x="178.5" y="269.2">ビジネス</text>
<rect class="sc" x="220" y="282" width="28" height="7"/><text x="234" y="286.7">ActivityID</text>
<rect class="sc" x="220" y="292" width="26" height="7"/><text x="233" y="296.7">プロセスID</text>
<rect class="gc" x="208" y="316" width="28" height="7"/><text x="222" y="320.7">システム機能ID</text>
<rect class="sc" x="210" y="325" width="31" height="7"/><text x="225.5" y="329.7">業務イベントID</text>
<rect class="sc" x="209" y="334" width="34" height="7"/><text x="226" y="338.7">ビジネス要件ID</text>
<rect class="lc" x="33" y="350" width="30" height="7"/><text x="48" y="354.7">非機能要件ID</text>
<rect class="lc" x="164" y="337" width="29" height="14"/><text x="178.5" y="343.1">システム機能<tspan x="178.5" dy="4.3">要件ID</tspan></text>
<rect class="lc" x="115" y="388" width="23" height="6"/><text x="126.5" y="392.2">システムID</text>
<rect class="lc" x="17" y="408" width="15" height="6"/><text x="24.5" y="412.2">製品ID</text>
<rect class="sc" x="17" y="446" width="30" height="7"/><text x="32" y="450.7">非機能要件ID</text>
<rect class="lc" x="65" y="460" width="28" height="6"/><text x="79" y="464.2">アプリ機能ID</text>
<rect class="sc" x="57" y="490" width="32" height="7"/><text x="73" y="494.7">非機能要件ID</text>
<rect class="lc" x="165" y="429" width="28" height="13"/><text x="179" y="434.6">アプリ機能ID<tspan x="179" dy="4.3">(ハ支元)</tspan></text>
<rect class="lc" x="147" y="492" width="45" height="7"/><text x="169.5" y="496.7">アプリ処理タイプID</text>
<rect class="sc" x="213" y="492" width="46" height="8"/><text x="236" y="497.2">アプリ機能ID(階層)</text>
<rect class="lc" x="308" y="260" width="48" height="7"/><text x="332" y="264.7">外部インターフェースID</text>
<rect class="gc" x="368" y="260" width="30" height="7"/><text x="383" y="264.7">業務イベントID</text>
<rect class="gc" x="379" y="269" width="29" height="8"/><text x="393.5" y="274.2">データ項目ID</text>
<rect class="gc" x="333" y="298" width="43" height="7"/><text x="354.5" y="302.7">システム機能要件ID</text>
<rect class="lc" x="310" y="305" width="16" height="7"/><text x="318" y="309.7">画面ID</text>
<rect class="sc" x="332" y="307" width="29" height="7"/><text x="346.5" y="311.7">データ項目ID</text>
<rect class="lc" x="395" y="319" width="28" height="7"/><text x="409" y="323.7">論理EntityID</text>
<rect class="sc" x="395" y="330" width="29" height="7"/><text x="409.5" y="334.7">データ項目ID</text>
<rect class="gc" x="328" y="347" width="44" height="7"/><text x="350" y="351.7">システム機能要件ID</text>
<rect class="lc" x="299" y="356" width="20" height="7"/><text x="309" y="360.7">帳票ID</text>
<rect class="sc" x="327" y="356" width="30" height="7"/><text x="342" y="360.7">データ項目ID</text>
<rect class="lc" x="385" y="384" width="28" height="6"/><text x="399" y="388.2">データ項目ID</text>
<rect class="lc" x="307" y="394" width="23" height="16"/><text x="318.5" y="401.1">ルールロ<tspan x="318.5" dy="4.3">ジックID</tspan></text>
<rect class="lc" x="270" y="455" width="28" height="7"/><text x="284" y="459.7">アプリ機能ID</text>
<rect class="sc" x="319" y="454" width="44" height="8"/><text x="341" y="459.2">システム機能要件ID</text>
<rect class="sc" x="317" y="485" width="16" height="7"/><text x="325" y="489.7">画面ID</text>
<rect class="sc" x="317" y="495" width="16" height="7"/><text x="325" y="499.7">帳票ID</text>
<rect class="sc" x="319" y="503" width="48" height="8"/><text x="343" y="508.2">外部インターフェースID</text>
<rect class="sc" x="319" y="513" width="36" height="8"/><text x="337" y="518.2">ルールロジックID</text>
<rect class="sc" x="317" y="522" width="27" height="6"/><text x="330.5" y="526.2">論理EntityID</text>
<rect class="sc" x="317" y="532" width="27" height="6"/><text x="330.5" y="536.2">データ項目ID</text>
<rect class="lc" x="481" y="255" width="27" height="6"/><text x="494.5" y="259.2">論理EntityID</text>
<rect class="sc" x="480" y="265" width="29" height="7"/><text x="494.5" y="269.7">データ項目ID</text>
<rect class="lc" x="540" y="255" width="20" height="14"/><text x="550" y="261.1">ルールロ<tspan x="550" dy="4.3">ジックID</tspan></text>
<rect class="lc" x="468" y="322" width="34" height="6"/><text x="485" y="326.2">物理テーブルID</text>
<rect class="lc" x="472" y="333" width="28" height="7"/><text x="486" y="337.7">データ項目ID</text>
<rect class="sc" x="517" y="333" width="26" height="6"/><text x="530" y="337.2">論理EntityID</text>
<rect class="lc" x="583" y="330" width="26" height="13"/><text x="596" y="335.6">アプリ機能<tspan x="596" dy="4.3">ID</tspan></text>
<rect class="sc" x="621" y="333" width="22" height="15"/><text x="632" y="339.6">ルール機<tspan x="632" dy="4.3">能ID</tspan></text>
<rect class="sc" x="621" y="382" width="22" height="15"/><text x="632" y="388.6">物理テー<tspan x="632" dy="4.3">ブルID</tspan></text>
<rect class="lc" x="583" y="389" width="29" height="7"/><text x="597.5" y="393.7">アプリ機能ID</text>
<rect class="lc" x="467" y="391" width="24" height="12"/><text x="479" y="396.1">外部インター<tspan x="479" dy="4.3">フェースID</tspan></text>
<rect class="gc" x="503" y="394" width="30" height="7"/><text x="518" y="398.7">業務イベントID</text>
<rect class="gc" x="503" y="403" width="30" height="6"/><text x="518" y="407.2">データ項目ID</text>
<rect class="lc" x="542" y="396" width="31" height="13"/><text x="557.5" y="401.6">外部インター<tspan x="557.5" dy="4.3">フェースID</tspan></text>
<rect class="lc" x="483" y="459" width="34" height="13"/><text x="500" y="464.6">外部インター<tspan x="500" dy="4.3">フェースID</tspan></text>
<rect class="gs" x="543" y="462" width="30" height="7"/><text x="558" y="466.7">データ項目ID</text>
<rect class="sc" x="455" y="503" width="38" height="12"/><text x="474" y="508.1">外部インターフェー<tspan x="474" dy="4.3">スID</tspan></text>
<rect class="lc" x="545" y="496" width="20" height="14"/><text x="555" y="502.1">物理テー<tspan x="555" dy="4.3">ブルID</tspan></text>
<rect class="sc" x="573" y="495" width="22" height="14"/><text x="584" y="501.1">データ項<tspan x="584" dy="4.3">目ID</tspan></text>
<rect class="lc" x="412" y="510" width="36" height="7"/><text x="430" y="514.7">アプリ機能ID</text>
<rect class="lc" x="502" y="538" width="21" height="7"/><text x="512.5" y="542.7">共通機能ID</text>
<rect class="sc" x="443" y="575" width="16" height="6"/><text x="451" y="579.2">画面ID</text>
<rect class="lc" x="478" y="575" width="19" height="7"/><text x="487.5" y="579.7">帳票ID</text>
<rect class="lc" x="412" y="600" width="38" height="7"/><text x="431" y="604.7">画面ID／帳票ID</text>
<rect class="lc" x="515" y="613" width="15" height="6"/><text x="522.5" y="617.2">画面ID</text>
<rect class="sc" x="544" y="593" width="48" height="14"/><text x="568" y="599.1">システムイベントID<tspan x="568" dy="4.3">(ボタン、メニューなど)</tspan></text>
<rect class="sc" x="545" y="610" width="28" height="7"/><text x="559" y="614.7">データ項目ID</text>
<rect class="lc" x="596" y="612" width="36" height="7"/><text x="614" y="616.7">画面リソースID</text>
<rect class="lc" x="423" y="663" width="28" height="14"/><text x="437" y="669.1">トランザクショ<tspan x="437" dy="4.3">ンID</tspan></text>
<rect class="lc" x="483" y="668" width="50" height="14"/><text x="508" y="674.1">システムイベントID<tspan x="508" dy="4.3">(ボタン、メニューなど)</tspan></text>
<rect class="gc" x="547" y="676" width="15" height="6"/><text x="554.5" y="680.2">画面ID</text>
<rect class="gc" x="546" y="702" width="26" height="15"/><text x="559" y="708.6">トランザク<tspan x="559" dy="4.3">ションID</tspan></text>
<rect class="lc" x="585" y="699" width="27" height="7"/><text x="598.5" y="703.7">共通機能ID</text>
<rect class="sc" x="467" y="705" width="38" height="22"/><text x="486" y="712.95">システムイベントID<tspan x="486" dy="4.3">(ボタン、メニュー</tspan><tspan x="486" dy="4.3">など)</tspan></text>
<rect class="lc" x="453" y="743" width="32" height="7"/><text x="469" y="747.7">物理テーブルID</text>
<rect class="sc" x="453" y="753" width="28" height="6"/><text x="467" y="757.2">データ項目ID</text>
<rect class="lc" x="385" y="713" width="23" height="14"/><text x="396.5" y="719.1">システム機<tspan x="396.5" dy="4.3">能要件ID</tspan></text>
<rect class="lc" x="334" y="549" width="29" height="6"/><text x="348.5" y="553.2">アプリ機能ID</text>
<rect class="gc" x="262" y="540" width="34" height="7"/><text x="279" y="544.7">コンポーネントID</text>
<rect class="lc" x="218" y="548" width="32" height="9"/><text x="234" y="553.7">アプリ機能ID</text>
<rect class="gc" x="227" y="600" width="31" height="12"/><text x="242.5" y="605.1">システム機能<tspan x="242.5" dy="4.3">要件ID</tspan></text>
<rect class="sc" x="211" y="619" width="27" height="6"/><text x="224.5" y="623.2">アプリ機能ID</text>
<rect class="lc" x="210" y="665" width="27" height="12"/><text x="223.5" y="670.1" style="font-size:3.4px">機能構造(階層)I<tspan x="223.5" dy="4.3">D</tspan></text>
<rect class="sc" x="247" y="668" width="30" height="8"/><text x="262" y="673.2">アプリ機能ID</text>
<rect class="lc" x="338" y="608" width="29" height="7"/><text x="352.5" y="612.7">アプリ機能ID</text>
<rect class="gc" x="373" y="603" width="25" height="14"/><text x="385.5" y="609.1">トランザク<tspan x="385.5" dy="4.3">ションID</tspan></text>
<rect class="gc" x="320" y="667" width="25" height="15"/><text x="332.5" y="673.6">処理パター<tspan x="332.5" dy="4.3">ンID</tspan></text>
<rect class="sc" x="263" y="700" width="22" height="12"/><text x="274" y="705.1">アプリ機能<tspan x="274" dy="4.3">ID</tspan></text>
<rect class="lc" x="298" y="700" width="20" height="12"/><text x="308" y="705.1">アプリ機能<tspan x="308" dy="4.3">ID</tspan></text>
<rect class="lc" x="238" y="705" width="20" height="6"/><text x="248" y="709.2">ジョブID</text>
<rect class="lc" x="145" y="723" width="28" height="7"/><text x="159" y="727.7">ジョブネットID</text>
<rect class="sc" x="189" y="723" width="18" height="7"/><text x="198" y="727.7">ジョブID</text>
<rect class="lc" x="295" y="760" width="43" height="20"/><text x="316.5" y="766.95">バッチ・プログラムID<tspan x="316.5" dy="4.3">(最下位のバッチ機</tspan><tspan x="316.5" dy="4.3">能ID)</tspan></text>
<rect class="lc" x="227" y="768" width="43" height="7"/><text x="248.5" y="772.7">システム機能要件ID</text>
<rect class="gc" x="373" y="775" width="34" height="7"/><text x="390" y="779.7">バッチ機能ID</text>
<rect class="lc" x="228" y="810" width="20" height="6"/><text x="238" y="814.2">帳票ID</text>
<rect class="lc" x="399" y="803" width="28" height="9"/><text x="413" y="808.7">共通機能ID</text>
<rect class="gc" x="238" y="839" width="44" height="21"/><text x="260" y="846.45">バッチ・プログラムID<tspan x="260" dy="4.3">(最下位のバッチ機</tspan><tspan x="260" dy="4.3">能ID)</tspan></text>
<rect class="lo" x="16" y="588" width="35" height="8"/><text x="33.5" y="593.2">ID管理対象外</text>
<rect class="sc" x="67" y="582" width="30" height="14"/><text x="82" y="588.1">システム機能<tspan x="82" dy="4.3">要件ID</tspan></text>
<rect class="sc" x="27" y="630" width="28" height="13"/><text x="41" y="635.6">システム非機<tspan x="41" dy="4.3">能要件ID</tspan></text>
<rect class="sc" x="65" y="630" width="19" height="8"/><text x="74.5" y="635.2">製品ID</text>
<rect class="lc" x="113" y="597" width="34" height="6"/><text x="130" y="601.2">コンポーネントID</text>
<rect class="sc" x="172" y="586" width="31" height="14"/><text x="187.5" y="592.1">システム機能要<tspan x="187.5" dy="4.3">件ID</tspan></text>
<rect class="lc" x="122" y="638" width="31" height="6"/><text x="137.5" y="642.2">処理パターンID</text>
<rect class="sc" x="136" y="669" width="36" height="8"/><text x="154" y="674.2">コンポーネントID</text>
</g>
</svg>
